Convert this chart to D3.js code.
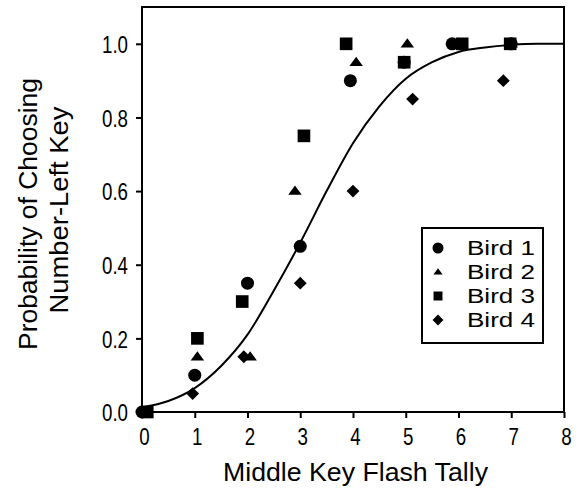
<!DOCTYPE html>
<html>
<head>
<meta charset="utf-8">
<script src="https://cdn.jsdelivr.net/npm/d3@7"></script>
<style>
  body { margin: 0; background: #fff; }
  svg { display: block; }
  text { font-family: "Liberation Sans", Arial, sans-serif; fill: #000; }
</style>
</head>
<body>
<div id="chart"></div>
<script>
// data
const birdNames = ["Bird 1", "Bird 2", "Bird 3", "Bird 4"];
const bird1X = [0, 1.0, 2.0, 3.0, 3.95, 4.97, 5.88, 7.0];
const bird1Y = [0, 0.10, 0.35, 0.45, 0.90, 0.95, 1.0, 1.0];
const bird2X = [0.05, 1.05, 2.05, 2.9, 4.06, 5.03, 6.0, 7.0];
const bird2Y = [0, 0.15, 0.15, 0.60, 0.95, 1.0, 1.0, 1.0];
const bird3X = [0.1, 1.05, 1.9, 3.07, 3.87, 4.97, 6.07, 6.98];
const bird3Y = [0, 0.20, 0.30, 0.75, 1.0, 0.95, 1.0, 1.0];
const bird4X = [0, 0.96, 1.93, 3.0, 4.0, 5.13, 6.0, 6.85];
const bird4Y = [0, 0.05, 0.15, 0.35, 0.60, 0.85, 1.0, 0.90];

// fitted curve
const curveX = [0, 0.5, 1, 1.5, 2, 2.5, 3, 3.5, 4, 4.5, 5, 5.5, 6, 6.5, 7, 7.5, 8];
const curveY = [0.013, 0.03, 0.065, 0.125, 0.21, 0.33, 0.46, 0.60, 0.73, 0.83, 0.905, 0.95, 0.978, 0.99, 0.997, 1.0, 1.0];

const xTicks = [0, 1, 2, 3, 4, 5, 6, 7, 8];
const yTicks = [0, 0.2, 0.4, 0.6, 0.8, 1.0];

const width = 584, height = 488;
const plotLeft = 142, plotRight = 564, plotTop = 7, plotBottom = 412;

const svg = d3.select("#chart").append("svg")
    .attr("width", width)
    .attr("height", height);

const x = d3.scaleLinear().domain([0, 8]).range([plotLeft, plotRight]);
const y = d3.scaleLinear().domain([0, 1.1]).range([plotBottom, plotTop]);

// narrow the text like the original condensed font
function squeeze(sel, k) {
    sel.each(function () {
        const w = this.getComputedTextLength();
        d3.select(this).attr("textLength", w * k).attr("lengthAdjust", "spacingAndGlyphs");
    });
}

// flat triangle marker
const flatTriangle = {
    draw(ctx, size) {
        const s = Math.sqrt(size);
        const w = s * 1.1, h = s * 0.75;
        ctx.moveTo(0, -h * 0.6);
        ctx.lineTo(w / 2, h * 0.4);
        ctx.lineTo(-w / 2, h * 0.4);
        ctx.closePath();
    }
};
const shapes = [d3.symbolCircle, flatTriangle, d3.symbolSquare, d3.symbolDiamond2];
const plotSizes = [133, 150, 160, 105];
const legendSizes = [95, 70, 81, 75];

// axes
const xAxis = svg.append("g")
    .attr("transform", `translate(0,${plotBottom})`)
    .call(d3.axisBottom(x).tickValues(xTicks).tickSize(6).tickSizeOuter(0).tickFormat(d3.format("d")));
xAxis.select(".domain").remove();
xAxis.selectAll("line").attr("stroke", "#000").attr("stroke-width", 2);
xAxis.selectAll("text")
    .attr("y", 33).attr("dy", null).attr("dx", 2)
    .attr("font-size", 24).attr("font-family", null)
    .call(squeeze, 0.78);

const yAxis = svg.append("g")
    .attr("transform", `translate(${plotLeft},0)`)
    .call(d3.axisLeft(y).tickValues(yTicks).tickSize(6).tickSizeOuter(0).tickFormat(d3.format(".1f")));
yAxis.select(".domain").remove();
yAxis.selectAll("line").attr("stroke", "#000").attr("stroke-width", 2);
yAxis.selectAll("text")
    .attr("x", -14).attr("dy", "0.36em")
    .attr("font-size", 24).attr("font-family", null)
    .call(squeeze, 0.78);

// frame
svg.append("rect")
    .attr("x", plotLeft).attr("y", plotTop)
    .attr("width", plotRight - plotLeft).attr("height", plotBottom - plotTop)
    .attr("fill", "none").attr("stroke", "#000").attr("stroke-width", 2);

// curve
const line = d3.line()
    .x((d, i) => x(curveX[i]))
    .y(d => y(d))
    .curve(d3.curveMonotoneX);
svg.append("path")
    .attr("d", line(curveY))
    .attr("fill", "none")
    .attr("stroke", "#000")
    .attr("stroke-width", 2);

// points
const birdsX = [bird1X, bird2X, bird3X, bird4X];
const birdsY = [bird1Y, bird2Y, bird3Y, bird4Y];
birdsX.forEach((xs, b) => {
    const sym = d3.symbol(shapes[b], plotSizes[b]);
    svg.append("g").selectAll("path")
        .data(xs)
        .join("path")
        .attr("transform", (d, i) => `translate(${x(d)},${y(birdsY[b][i])})`)
        .attr("d", sym())
        .attr("fill", "#000");
});

// legend
const legend = svg.append("g");
legend.append("rect")
    .attr("x", 422).attr("y", 228)
    .attr("width", 121).attr("height", 115)
    .attr("fill", "#fff").attr("stroke", "#000").attr("stroke-width", 2);
const rowY = i => 248 + i * 24;
legend.selectAll("path")
    .data(birdNames)
    .join("path")
    .attr("transform", (d, i) => `translate(438,${rowY(i)})`)
    .attr("d", (d, i) => d3.symbol(shapes[i], legendSizes[i])())
    .attr("fill", "#000");
legend.selectAll("text")
    .data(birdNames)
    .join("text")
    .attr("x", 467)
    .attr("y", (d, i) => rowY(i) + 7)
    .attr("font-size", 20.5)
    .attr("textLength", 68)
    .attr("lengthAdjust", "spacingAndGlyphs")
    .text(d => d);

// axis titles
svg.append("text")
    .attr("x", (223 + 488) / 2).attr("y", 481)
    .attr("text-anchor", "middle")
    .attr("font-size", 25)
    .attr("textLength", 265)
    .attr("lengthAdjust", "spacingAndGlyphs")
    .text("Middle Key Flash Tally");

svg.append("text")
    .attr("transform", "translate(37,214) rotate(-90)")
    .attr("text-anchor", "middle")
    .attr("font-size", 25)
    .attr("textLength", 272)
    .attr("lengthAdjust", "spacingAndGlyphs")
    .text("Probability of Choosing");

svg.append("text")
    .attr("transform", "translate(68,210) rotate(-90)")
    .attr("text-anchor", "middle")
    .attr("font-size", 25)
    .attr("textLength", 207)
    .attr("lengthAdjust", "spacingAndGlyphs")
    .text("Number-Left Key");
</script>
</body>
</html>
